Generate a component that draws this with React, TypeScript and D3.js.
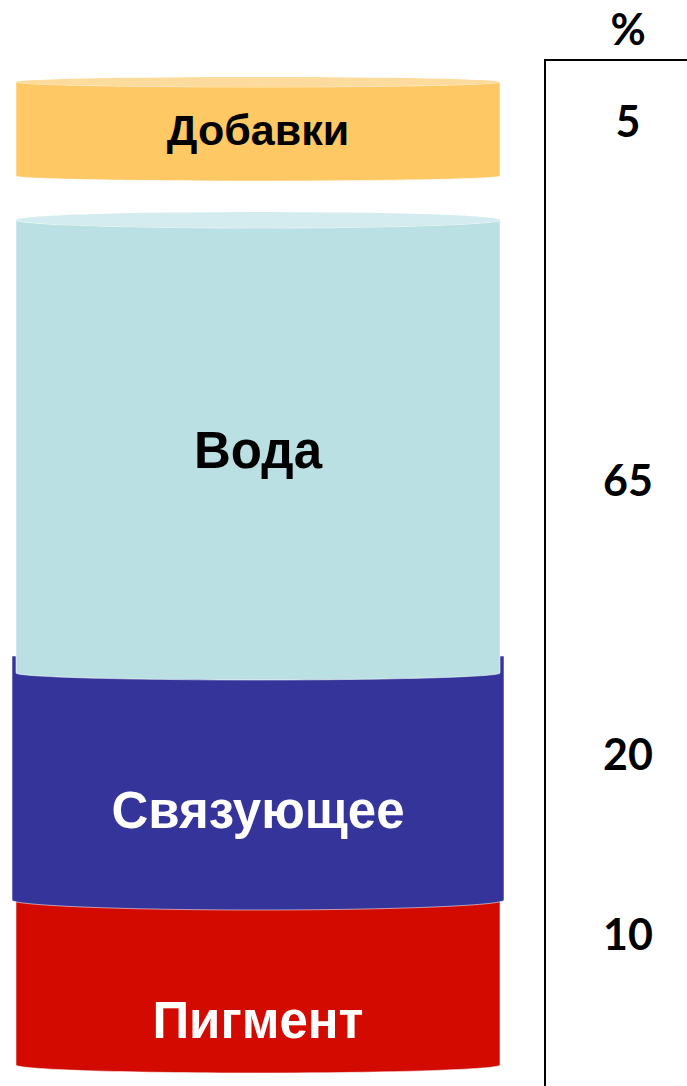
import React from "react";
import * as d3 from "d3";

// ---- data ----
const categories = ["Добавки", "Вода", "Связующее", "Пигмент"];
const percents = [5, 65, 20, 10];
const bodyColors = ["#FEC864", "#BBE0E3", "#35349A", "#D20A00"];
const capColors = ["#FDDB9C", "#D4ECEF", null, null];
const textColors = ["#000000", "#000000", "#FFFFFF", "#FFFFFF"];
const axisTitle = "%";

// ---- layout ----
const W = 687;
const H = 1086;
const topY = 82;
const gapsAfter = [44, -17, -5];
const widen = [0, 0, 4, 0];
const bottomRy = [5, 7, 10, 8];
const topRy = [5, 8, 0, 0];
const innerFont = [43, 51, 51, 51];
const innerShift = [1, 4, 32, 40];
const pctBaselineShift = [55, 276, 114, 55];

export default function App() {
  // piecewise visual height scale (stylised infographic, not strictly proportional)
  const heightScale = d3
    .scaleLinear()
    .domain([5, 10, 20, 65])
    .range([94, 170, 244, 453]);

  const x = d3.scaleLinear().domain([0, 1]).range([16, 500]);

  const segs: { top: number; bottom: number }[] = [];
  let y = topY;
  percents.forEach((v, i) => {
    const h = heightScale(v);
    segs.push({ top: y, bottom: y + h });
    y = y + h + (gapsAfter[i] ?? 0);
  });

  const order = d3.range(categories.length).reverse();

  const bodyPath = (i: number) => {
    const { top, bottom } = segs[i];
    const l = x(0) - widen[i];
    const r = x(1) + widen[i];
    const rx = (r - l) / 2;
    const p = d3.path();
    p.moveTo(l, top);
    p.lineTo(l, bottom);
    const ry = bottomRy[i];
    const k = 0.5523;
    const cx = (l + r) / 2;
    p.bezierCurveTo(l, bottom + ry * k, cx - rx * k, bottom + ry, cx, bottom + ry);
    p.bezierCurveTo(cx + rx * k, bottom + ry, r, bottom + ry * k, r, bottom);
    p.lineTo(r, top);
    const tr = topRy[i];
    if (tr > 0) {
      p.bezierCurveTo(r, top + tr * k, cx + rx * k, top + tr, cx, top + tr);
      p.bezierCurveTo(cx - rx * k, top + tr, l, top + tr * k, l, top);
    } else {
      p.closePath();
    }
    return p.toString();
  };

  const axisX = 545;
  const axisTop = 60;
  const pctX = 628;

  return (
    <svg
      width={W}
      height={H}
      style={{ position: "absolute", left: 0, top: 0, background: "#fff" }}
    >
      {order.map((i) => {
        const { top, bottom } = segs[i];
        const l = x(0) - widen[i];
        const r = x(1) + widen[i];
        const cx = (l + r) / 2;
        return (
          <g key={categories[i]}>
            <path
              d={bodyPath(i)}
              fill={bodyColors[i]}
              stroke="rgba(255,255,255,0.55)"
              strokeWidth={1}
            />
            {capColors[i] && (
              <ellipse
                cx={cx}
                cy={top}
                rx={(r - l) / 2}
                ry={topRy[i]}
                fill={capColors[i] as string}
              />
            )}
            <text
              x={cx}
              y={(top + bottom) / 2 + innerShift[i]}
              textAnchor="middle"
              dominantBaseline="central"
              fontFamily="'Liberation Sans', Arial, sans-serif"
              fontWeight="bold"
              fontSize={innerFont[i]}
              fill={textColors[i]}
            >
              {categories[i]}
            </text>
          </g>
        );
      })}

      <line x1={axisX} y1={axisTop} x2={axisX} y2={H} stroke="#000" strokeWidth={2} />
      <line x1={axisX - 1} y1={axisTop} x2={W} y2={axisTop} stroke="#000" strokeWidth={2} />

      <text
        x={pctX}
        y={45}
        textAnchor="middle"
        fontFamily="Lato, 'Open Sans', sans-serif"
        fontWeight="bold"
        fontSize={43}
        fill="#000"
      >
        {axisTitle}
      </text>
      {percents.map((v, i) => (
        <text
          key={"p" + i}
          x={pctX}
          y={segs[i].top + pctBaselineShift[i]}
          textAnchor="middle"
          fontFamily="Lato, 'Open Sans', sans-serif"
          fontWeight="bold"
          fontSize={43}
          fill="#000"
        >
          {v}
        </text>
      ))}
    </svg>
  );
}
